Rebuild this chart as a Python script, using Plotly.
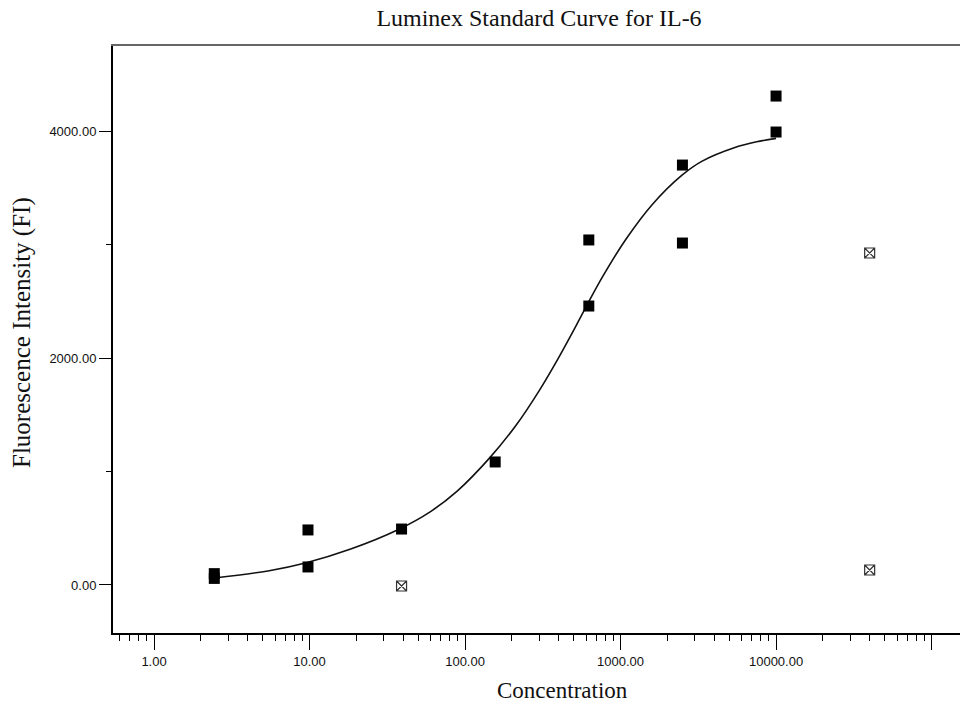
import plotly.graph_objects as go

# Standards (filled squares)
std_conc = [2.44, 2.44, 9.77, 9.77, 39.06, 156.25, 625, 625, 2500, 2500, 10000, 10000]
std_fi = [100, 58, 485, 159, 493, 1084, 3040, 2458, 3700, 3013, 3991, 4308]

# Excluded points (crossed squares)
exc_conc = [39.06, 40000, 40000]
exc_fi = [-9, 2925, 132]

# Fitted standard curve
curve_conc = [2.44, 5.4, 9.4, 18.4, 37, 60, 89, 144, 214, 300, 386, 500, 600, 770,
              1080, 1606, 2495, 3350, 5440, 7500, 10000]
curve_fi = [62, 124, 194, 317, 487, 647, 827, 1120, 1412, 1713, 1966, 2246, 2451, 2721,
            3044, 3355, 3613, 3735, 3855, 3905, 3935]

# Ticks
x_tickvals = [1, 10, 100, 1000, 10000, 100000]
x_ticktext = ["1.00", "10.00", "100.00", "1000.00", "10000.00", ""]
x_minor = [m * 10 ** e for e in range(-1, 5) for m in range(2, 10) if 0.55 <= m * 10 ** e <= 140000]
y_tickvals = [0, 2000, 4000]
y_ticktext = ["0.00", "2000.00", "4000.00"]
y_minor = [1000, 3000]

serif = "Liberation Serif, Times New Roman, serif"
sans = "Liberation Sans, Arial, sans-serif"

fig = go.Figure()
fig.add_trace(go.Scatter(x=curve_conc, y=curve_fi, mode="lines",
                         line=dict(color="#111111", width=1.6, shape="spline", smoothing=1.0),
                         hoverinfo="skip", showlegend=False))
fig.add_trace(go.Scatter(x=std_conc, y=std_fi, mode="markers",
                         marker=dict(symbol="square", size=11, color="black"),
                         showlegend=False))
fig.add_trace(go.Scatter(x=exc_conc, y=exc_fi, mode="markers",
                         marker=dict(symbol="square-x-open", size=10, color="#333333",
                                     line=dict(width=1.2, color="#333333")),
                         showlegend=False))
# invisible trace for top frame axis
fig.add_trace(go.Scatter(x=[1], y=[0], xaxis="x2", mode="markers",
                         marker=dict(opacity=0), hoverinfo="skip", showlegend=False))

fig.update_layout(
    width=960, height=702,
    margin=dict(l=113, r=0, t=46, b=69),
    paper_bgcolor="white", plot_bgcolor="white",
    title=dict(text="Luminex Standard Curve for IL-6", x=539 / 960, xref="container",
               xanchor="center",
               y=1 - 18 / 702, yref="container", yanchor="middle",
               font=dict(family=serif, size=24, color="#111111")),
    xaxis=dict(type="log", range=[-0.264, 5.183], showgrid=False, zeroline=False,
               showline=True, linecolor="black", linewidth=2,
               ticks="outside", ticklen=15, tickwidth=1.2, tickcolor="black",
               tickvals=x_tickvals, ticktext=x_ticktext,
               tickfont=dict(family=sans, size=13, color="#111111"),
               minor=dict(tickvals=x_minor, ticks="outside", ticklen=6, tickwidth=1,
                          tickcolor="black", showgrid=False)),
    xaxis2=dict(type="log", overlaying="x", side="top", matches="x", showgrid=False,
                zeroline=False, showline=True, linecolor="#666666", linewidth=2,
                ticks="", showticklabels=False),
    yaxis=dict(range=[-423, 4749], showgrid=False, zeroline=False,
               showline=True, linecolor="black", linewidth=2,
               ticks="outside", ticklen=12, tickwidth=1.2, tickcolor="black",
               tickvals=y_tickvals, ticktext=y_ticktext,
               tickfont=dict(family=sans, size=13, color="#111111"),
               minor=dict(tickvals=y_minor, ticks="outside", ticklen=5, tickwidth=1,
                          tickcolor="black", showgrid=False)),
    annotations=[
        dict(text="Concentration", xref="paper", yref="paper",
             x=(562 - 113) / 847, y=-(690 - 633) / 587, xanchor="center", yanchor="middle",
             showarrow=False, font=dict(family=serif, size=23, color="#111111")),
        dict(text="Fluorescence Intensity (FI)", xref="paper", yref="paper",
             x=-(113 - 22) / 847, y=(633 - 333) / 587, xanchor="center", yanchor="middle",
             textangle=-90, showarrow=False,
             font=dict(family=serif, size=25, color="#111111")),
    ],
)

fig.write_html("out.html")
